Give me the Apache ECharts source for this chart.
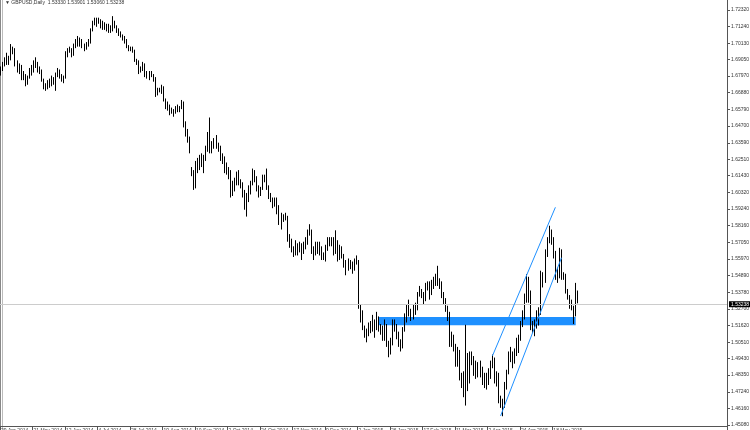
<!DOCTYPE html>
<html><head><meta charset="utf-8">
<style>html,body{margin:0;padding:0;background:#fff}#c{width:750px;height:430px}</style>
<script src="https://cdn.jsdelivr.net/npm/echarts@6/dist/echarts.min.js"></script>
</head><body><div id="c"></div>
<script>
// GBPUSD Daily, [open, close, low, high], first bar 29 Apr 2014
const bars = [
[1.6820,1.6840,1.6800,1.6860],[1.6840,1.6880,1.6830,1.6890],[1.6880,1.6900,1.6860,1.6920],[1.6900,1.6890,1.6870,1.6950],
[1.6890,1.6920,1.6870,1.6930],[1.6920,1.6960,1.6900,1.7007],[1.6960,1.6960,1.6940,1.6990],[1.6960,1.6870,1.6860,1.6980],
[1.6870,1.6830,1.6820,1.6900],[1.6830,1.6860,1.6810,1.6880],[1.6860,1.6790,1.6770,1.6870],[1.6790,1.6800,1.6770,1.6830],
[1.6800,1.6750,1.6730,1.6810],[1.6750,1.6790,1.6740,1.6800],[1.6790,1.6830,1.6780,1.6850],[1.6830,1.6860,1.6800,1.6870],
[1.6860,1.6870,1.6820,1.6900],[1.6870,1.6880,1.6850,1.6920],[1.6880,1.6830,1.6820,1.6890],[1.6830,1.6830,1.6810,1.6860],
[1.6830,1.6770,1.6760,1.6840],[1.6770,1.6720,1.6710,1.6780],[1.6720,1.6730,1.6700,1.6750],[1.6730,1.6750,1.6710,1.6770],
[1.6750,1.6740,1.6720,1.6780],[1.6740,1.6780,1.6730,1.6800],[1.6780,1.6760,1.6740,1.6790],[1.6760,1.6810,1.6700,1.6820],
[1.6810,1.6830,1.6790,1.6850],[1.6830,1.6800,1.6780,1.6840],[1.6800,1.6780,1.6760,1.6810],[1.6780,1.6790,1.6750,1.6800],
[1.6790,1.6940,1.6780,1.6960],[1.6940,1.6970,1.6920,1.6980],[1.6970,1.6960,1.6950,1.6990],[1.6960,1.6940,1.6920,1.6980],
[1.6940,1.7000,1.6930,1.7010],[1.7000,1.7010,1.6980,1.7040],[1.7010,1.7020,1.6990,1.7060],[1.7020,1.7030,1.6990,1.7050],
[1.7030,1.7000,1.6980,1.7040],[1.7000,1.6990,1.6960,1.7010],[1.6990,1.7010,1.6970,1.7020],[1.7010,1.7020,1.6990,1.7040],
[1.7020,1.7100,1.7010,1.7110],[1.7100,1.7150,1.7090,1.7160],[1.7150,1.7160,1.7130,1.7180],[1.7160,1.7170,1.7120,1.7180],
[1.7170,1.7160,1.7140,1.7180],[1.7160,1.7150,1.7110,1.7170],[1.7150,1.7120,1.7100,1.7160],[1.7120,1.7130,1.7100,1.7150],
[1.7130,1.7110,1.7090,1.7140],[1.7110,1.7100,1.7080,1.7140],[1.7100,1.7110,1.7080,1.7130],[1.7110,1.7150,1.7090,1.7190],
[1.7150,1.7120,1.7110,1.7160],[1.7120,1.7100,1.7080,1.7130],[1.7100,1.7080,1.7060,1.7110],[1.7080,1.7060,1.7050,1.7090],
[1.7060,1.7040,1.7030,1.7070],[1.7040,1.7030,1.7010,1.7060],[1.7030,1.6990,1.6980,1.7040],[1.6990,1.6980,1.6960,1.7000],
[1.6980,1.6970,1.6960,1.6990],[1.6970,1.6960,1.6950,1.6990],[1.6960,1.6900,1.6890,1.6970],[1.6900,1.6880,1.6870,1.6910],
[1.6880,1.6830,1.6810,1.6900],[1.6830,1.6840,1.6820,1.6860],[1.6840,1.6870,1.6830,1.6890],[1.6870,1.6810,1.6790,1.6880],
[1.6810,1.6800,1.6780,1.6830],[1.6800,1.6820,1.6770,1.6830],[1.6820,1.6800,1.6790,1.6830],[1.6800,1.6770,1.6760,1.6810],
[1.6770,1.6680,1.6660,1.6790],[1.6680,1.6700,1.6670,1.6720],[1.6700,1.6700,1.6690,1.6720],[1.6700,1.6720,1.6680,1.6740],
[1.6720,1.6640,1.6630,1.6730],[1.6640,1.6600,1.6580,1.6650],[1.6600,1.6590,1.6570,1.6630],[1.6590,1.6560,1.6540,1.6610],
[1.6560,1.6570,1.6550,1.6590],[1.6570,1.6560,1.6530,1.6580],[1.6560,1.6590,1.6550,1.6600],[1.6590,1.6580,1.6560,1.6610],
[1.6580,1.6590,1.6560,1.6600],[1.6590,1.6620,1.6580,1.6640],[1.6620,1.6480,1.6460,1.6630],[1.6480,1.6430,1.6400,1.6500],
[1.6430,1.6380,1.6360,1.6450],[1.6380,1.6320,1.6290,1.6400],[1.6180,1.6160,1.6140,1.6200],[1.6160,1.6080,1.6050,1.6180],
[1.6080,1.6220,1.6060,1.6240],[1.6220,1.6240,1.6160,1.6260],[1.6240,1.6260,1.6180,1.6280],[1.6260,1.6220,1.6200,1.6290],
[1.6220,1.6260,1.6160,1.6280],[1.6260,1.6320,1.6240,1.6340],[1.6320,1.6380,1.6300,1.6430],[1.6380,1.6310,1.6290,1.6525],
[1.6310,1.6350,1.6290,1.6370],[1.6350,1.6370,1.6320,1.6390],[1.6370,1.6340,1.6320,1.6410],[1.6340,1.6320,1.6300,1.6360],
[1.6320,1.6250,1.6240,1.6340],[1.6250,1.6250,1.6220,1.6290],[1.6250,1.6210,1.6160,1.6270],[1.6210,1.6170,1.6150,1.6230],
[1.6170,1.6160,1.6120,1.6200],[1.6160,1.6030,1.6000,1.6180],[1.6030,1.6090,1.6010,1.6110],[1.6090,1.6110,1.6040,1.6130],
[1.6110,1.6150,1.6080,1.6170],[1.6150,1.6100,1.6080,1.6180],[1.6100,1.6080,1.6060,1.6120],[1.6080,1.6040,1.6000,1.6100],
[1.6040,1.5940,1.5920,1.6050],[1.5940,1.6000,1.5875,1.6030],[1.6000,1.6050,1.5970,1.6080],[1.6050,1.6090,1.6020,1.6110],
[1.6090,1.6170,1.6080,1.6190],[1.6170,1.6130,1.6100,1.6180],[1.6130,1.6060,1.6040,1.6140],[1.6060,1.6040,1.6000,1.6080],
[1.6040,1.6060,1.6010,1.6070],[1.6060,1.6130,1.6050,1.6150],[1.6130,1.6120,1.6100,1.6150],[1.6120,1.6070,1.6050,1.6190],
[1.6070,1.6010,1.5990,1.6080],[1.6010,1.5990,1.5970,1.6030],[1.5990,1.5950,1.5930,1.6000],[1.5950,1.5980,1.5940,1.6000],
[1.5980,1.5910,1.5890,1.6000],[1.5910,1.5840,1.5820,1.5950],[1.5840,1.5880,1.5790,1.5900],[1.5880,1.5860,1.5840,1.5890],
[1.5860,1.5870,1.5850,1.5900],[1.5870,1.5750,1.5710,1.5880],[1.5750,1.5710,1.5670,1.5760],[1.5710,1.5660,1.5640,1.5730],
[1.5660,1.5640,1.5610,1.5680],[1.5640,1.5690,1.5620,1.5720],[1.5690,1.5650,1.5620,1.5700],[1.5650,1.5680,1.5640,1.5710],
[1.5680,1.5650,1.5590,1.5700],[1.5650,1.5690,1.5630,1.5710],[1.5690,1.5720,1.5660,1.5740],[1.5720,1.5770,1.5690,1.5790],
[1.5770,1.5780,1.5750,1.5825],[1.5780,1.5640,1.5630,1.5790],[1.5640,1.5660,1.5590,1.5680],[1.5660,1.5690,1.5620,1.5710],
[1.5690,1.5670,1.5630,1.5710],[1.5670,1.5650,1.5620,1.5710],[1.5650,1.5620,1.5590,1.5680],[1.5620,1.5610,1.5590,1.5640],
[1.5610,1.5670,1.5580,1.5690],[1.5670,1.5710,1.5650,1.5740],[1.5710,1.5700,1.5680,1.5740],[1.5700,1.5710,1.5680,1.5740],
[1.5710,1.5650,1.5620,1.5740],[1.5650,1.5700,1.5630,1.5785],[1.5700,1.5600,1.5580,1.5720],[1.5600,1.5670,1.5590,1.5690],
[1.5670,1.5620,1.5600,1.5680],[1.5620,1.5560,1.5540,1.5630],[1.5560,1.5530,1.5490,1.5590],[1.5530,1.5570,1.5520,1.5600],
[1.5570,1.5550,1.5530,1.5590],[1.5550,1.5530,1.5500,1.5580],[1.5530,1.5580,1.5520,1.5600],[1.5580,1.5580,1.5560,1.5620],
[1.5580,1.5280,1.5270,1.5590],[1.5280,1.5240,1.5180,1.5300],[1.5240,1.5140,1.5130,1.5260],[1.5140,1.5090,1.5080,1.5160],
[1.5090,1.5120,1.5050,1.5140],[1.5120,1.5160,1.5090,1.5180],[1.5160,1.5140,1.5110,1.5190],[1.5140,1.5190,1.5120,1.5230],
[1.5190,1.5170,1.5080,1.5200],[1.5170,1.5190,1.5130,1.5250],[1.5190,1.5140,1.5120,1.5220],[1.5140,1.5150,1.5100,1.5170],
[1.5150,1.5080,1.5060,1.5160],[1.5080,1.5160,1.5060,1.5200],[1.5160,1.5050,1.5020,1.5170],[1.5050,1.4990,1.4952,1.5060],
[1.4990,1.5050,1.4970,1.5080],[1.5050,1.5180,1.5030,1.5200],[1.5180,1.5160,1.5120,1.5200],[1.5160,1.5110,1.5070,1.5170],
[1.5110,1.5050,1.5020,1.5120],[1.5050,1.5030,1.4990,1.5070],[1.5030,1.5140,1.5010,1.5150],[1.5140,1.5220,1.5120,1.5240],
[1.5220,1.5290,1.5180,1.5300],[1.5290,1.5240,1.5220,1.5330],[1.5240,1.5230,1.5190,1.5270],[1.5230,1.5270,1.5200,1.5300],
[1.5270,1.5280,1.5230,1.5310],[1.5280,1.5370,1.5260,1.5380],[1.5370,1.5390,1.5350,1.5420],[1.5390,1.5360,1.5340,1.5400],
[1.5360,1.5340,1.5300,1.5380],[1.5340,1.5420,1.5320,1.5440],[1.5420,1.5410,1.5390,1.5450],[1.5410,1.5390,1.5330,1.5450],
[1.5390,1.5430,1.5360,1.5460],[1.5430,1.5460,1.5400,1.5480],[1.5460,1.5480,1.5420,1.5500],[1.5480,1.5440,1.5420,1.5552],
[1.5440,1.5430,1.5400,1.5470],[1.5430,1.5370,1.5340,1.5450],[1.5370,1.5320,1.5300,1.5380],[1.5320,1.5270,1.5250,1.5340],
[1.5270,1.5230,1.5190,1.5290],[1.5230,1.5040,1.5020,1.5250],[1.5040,1.5090,1.5020,1.5120],[1.5090,1.5010,1.4990,1.5100],
[1.5010,1.4910,1.4890,1.5040],[1.4910,1.4990,1.4890,1.5020],[1.4990,1.4820,1.4800,1.5000],[1.4820,1.4780,1.4750,1.4850],
[1.4780,1.4750,1.4690,1.4860],[1.4760,1.4950,1.4635,1.5165],[1.4950,1.4790,1.4730,1.4980],[1.4790,1.4960,1.4780,1.4990],
[1.4960,1.4950,1.4900,1.4990],[1.4950,1.4850,1.4830,1.4960],[1.4850,1.4890,1.4810,1.4930],[1.4890,1.4870,1.4820,1.4920],
[1.4870,1.4880,1.4820,1.4930],[1.4880,1.4790,1.4770,1.4890],[1.4790,1.4830,1.4750,1.4850],[1.4830,1.4780,1.4740,1.4850],
[1.4780,1.4850,1.4770,1.4880],[1.4850,1.4910,1.4810,1.4930],[1.4910,1.4940,1.4880,1.4970],[1.4940,1.4800,1.4780,1.4950],
[1.4800,1.4840,1.4760,1.4860],[1.4840,1.4670,1.4650,1.4850],[1.4670,1.4640,1.4620,1.4700],[1.4640,1.4630,1.4565,1.4680],
[1.4630,1.4770,1.4620,1.4790],[1.4770,1.4850,1.4740,1.4870],[1.4850,1.4950,1.4840,1.4990],[1.4950,1.4960,1.4920,1.5020],
[1.4960,1.4920,1.4880,1.4990],[1.4920,1.4990,1.4910,1.5010],[1.4990,1.5030,1.4960,1.5080],[1.5030,1.5070,1.4980,1.5100],
[1.5070,1.5180,1.5060,1.5190],[1.5180,1.5210,1.5150,1.5260],[1.5210,1.5340,1.5200,1.5370],[1.5340,1.5470,1.5310,1.5497],
[1.5470,1.5360,1.5310,1.5480],[1.5360,1.5140,1.5130,1.5390],[1.5140,1.5130,1.5110,1.5190],[1.5130,1.5180,1.5090,1.5200],
[1.5180,1.5240,1.5140,1.5260],[1.5240,1.5240,1.5160,1.5280],[1.5240,1.5440,1.5230,1.5520],[1.5440,1.5470,1.5410,1.5510],
[1.5470,1.5640,1.5440,1.5660],[1.5640,1.5720,1.5610,1.5740],[1.5720,1.5760,1.5700,1.5815],[1.5760,1.5720,1.5690,1.5790],
[1.5720,1.5640,1.5600,1.5740],[1.5640,1.5480,1.5460,1.5650],[1.5480,1.5490,1.5440,1.5540],[1.5490,1.5650,1.5470,1.5670],
[1.5650,1.5480,1.5460,1.5660],[1.5480,1.5490,1.5460,1.5510],[1.5490,1.5390,1.5370,1.5500],[1.5390,1.5350,1.5330,1.5400],
[1.5350,1.5300,1.5270,1.5360],[1.5300,1.5280,1.5260,1.5330],[1.5280,1.5230,1.5170,1.5290],[1.5230,1.5330,1.5220,1.5440],
[1.5333,1.5324,1.5306,1.5390]
];
const yTicks = [1.45080,1.46160,1.47240,1.48350,1.49430,1.50510,1.51620,1.52700,1.53780,1.54890,1.55970,1.57050,1.58160,
  1.59240,1.60320,1.61430,1.62510,1.63590,1.64700,1.65790,1.66880,1.67970,1.69050,1.70130,1.71240,1.72320];
const bidPrice = 1.53238;
const headerText = '\u25BC GBPUSD,Daily  1.53330 1.53901 1.53060 1.53238';
// support zone: [first bar, last bar, top price, bottom price]
const supportZone = [186, 283, 1.5216, 1.5162];
// trend lines: [bar1, price1, bar2, price2]
const trendLines = [[242, 1.4961, 273, 1.5936], [246, 1.4567, 276, 1.5605]];

const MONTHS = ['Jan','Feb','Mar','Apr','May','Jun','Jul','Aug','Sep','Oct','Nov','Dec'];
const nBars = bars.length;
const totalSlots = 358;
const cats = [];
let t = Date.UTC(2014, 3, 29);
while (cats.length < nBars) {
  const d = new Date(t);
  const wd = d.getUTCDay(), m = d.getUTCMonth(), dd = d.getUTCDate();
  const holiday = (m === 11 && dd === 25) || (m === 0 && dd === 1);
  if (wd !== 0 && wd !== 6 && !holiday) cats.push(dd + ' ' + MONTHS[m] + ' ' + d.getUTCFullYear());
  t += 86400000;
}
for (let i = nBars; i < totalSlots; i++) cats.push('slot' + i);
const showIdx = (i) => i < nBars && i % 16 === 0;

const chart = echarts.init(document.getElementById('c'), null, {renderer: 'canvas'});
chart.setOption({
  animation: false,
  backgroundColor: '#ffffff',
  textStyle: {fontFamily: 'Liberation Sans, Arial, sans-serif'},
  title: {text: headerText, left: 5, top: 0, padding: 0,
    textStyle: {fontSize: 5, fontWeight: 'normal', color: '#333'}},
  grid: {left: 0, right: 23, top: 0, bottom: 4, containLabel: false, outerBoundsMode: 'none'},
  xAxis: {
    type: 'category', data: cats, boundaryGap: true,
    axisLine: {show: true, lineStyle: {color: '#555', width: 1}},
    axisTick: {show: true, interval: (i) => showIdx(i), length: 4, lineStyle: {color: '#555'}},
    axisLabel: {interval: (i) => showIdx(i), fontSize: 5, color: '#444', margin: 2, align: 'left',
      hideOverlap: false, formatter: (v, i) => (i < nBars ? v : '')},
    splitLine: {show: false}
  },
  yAxis: {
    type: 'value', position: 'right', min: 1.4501, max: 1.7296, scale: true,
    splitLine: {show: false},
    axisLine: {show: true, lineStyle: {color: '#555'}},
    axisTick: {show: true, length: 3, customValues: yTicks, lineStyle: {color: '#555'}},
    axisLabel: {customValues: yTicks, formatter: (v) => v.toFixed(5), fontSize: 5, color: '#333', margin: 4, hideOverlap: false}
  },
  graphic: [
    {type: 'line', shape: {x1: 0.5, y1: 0, x2: 0.5, y2: 430}, style: {stroke: '#888', lineWidth: 1}, silent: true},
    {type: 'line', shape: {x1: 2.5, y1: 0, x2: 2.5, y2: 430}, style: {stroke: '#bbb', lineWidth: 1}, silent: true}
  ],
  series: [
    {
      type: 'candlestick', data: bars, barWidth: 1,
      itemStyle: {color: '#ffffff', color0: '#000000', borderColor: '#000000', borderColor0: '#000000', borderWidth: 1},
      markLine: {
        silent: true, symbol: ['none', 'none'], animation: false,
        lineStyle: {color: '#cccccc', width: 1, type: 'solid'},
        label: {show: true, position: 'end', distance: 2, formatter: bidPrice.toFixed(5),
          backgroundColor: '#000', color: '#fff', fontSize: 5, padding: [1, 2, 0, 2]},
        data: [{yAxis: bidPrice}]
      }
    },
    {
      type: 'line', data: [], z: 5, silent: true,
      markArea: {silent: true, itemStyle: {color: '#1e90ff', opacity: 1},
        data: [[{coord: [cats[supportZone[0]], supportZone[2]]}, {coord: [cats[supportZone[1]], supportZone[3]]}]]},
      markLine: {silent: true, symbol: ['none', 'none'], animation: false, label: {show: false},
        lineStyle: {color: '#1e90ff', width: 1, type: 'solid'},
        data: trendLines.map(l => [{coord: [cats[l[0]], l[1]]}, {coord: [cats[l[2]], l[3]]}])}
    }
  ]
});
</script></body></html>
